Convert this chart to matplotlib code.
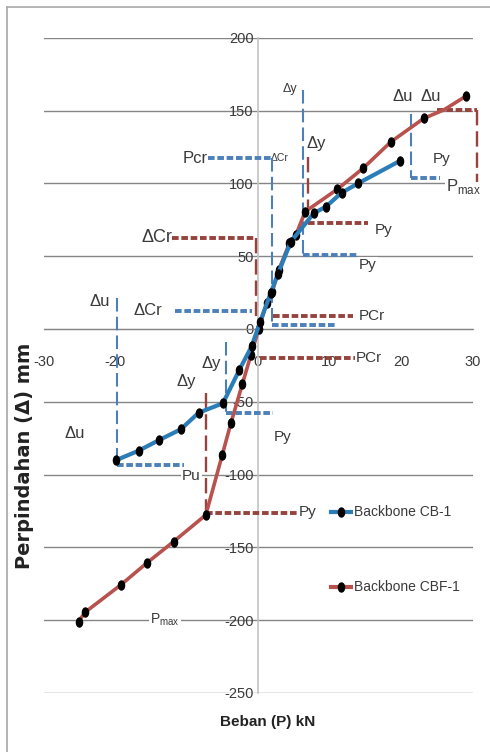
import matplotlib
matplotlib.use("Agg")
import matplotlib.pyplot as plt
from matplotlib.path import Path
from matplotlib.transforms import Affine2D
from matplotlib.lines import Line2D

plt.rcParams["axes.unicode_minus"] = False

# data: beban P (kN), perpindahan (mm)
cb1_name = "Backbone CB-1"
cb1_p = [-19.8, -16.7, -13.8, -10.8, -8.3, -4.9, -2.6, -0.9, 0.3, 1.8, 2.8, 4.6,
         7.8, 9.5, 11.7, 14.0, 19.9]
cb1_d = [-90.0, -83.6, -76.2, -68.9, -57.5, -51.0, -28.0, -12.0, 5.0, 25.0, 38.0, 60.0,
         79.5, 84.0, 93.6, 100.0, 115.6]

cbf1_name = "Backbone CBF-1"
cbf1_p = [-25.1, -24.2, -19.2, -15.5, -11.8, -7.3, -5.0, -3.8, -2.2, -1.0, 0.1, 1.2, 2.0,
          2.9, 4.4, 5.3, 6.6, 11.1, 14.7, 18.6, 23.2, 26.0, 29.1]
cbf1_d = [-201.0, -194.6, -175.8, -160.5, -146.0, -127.7, -86.5, -64.8, -38.0, -18.0, 0.0,
          17.7, 25.6, 40.5, 58.9, 64.6, 80.6, 96.0, 110.4, 128.6, 144.7, 150.5, 160.0]
cbf1_hidden = 21  # vertex under the dashed line, no marker

yticks = [-250, -200, -150, -100, -50, 0, 50, 100, 150, 200]
xticks = [-30, -20, 0, 10, 20, 30]

# dashed helper lines: (y, x0, x1) and (x, y0, y1)
blue_h = [(117.4, -7.0, 2.0), (2.7, 2.0, 11.0), (12.6, -11.6, -0.8), (-93.4, -19.76, -10.4),
          (-57.9, -4.5, 2.06), (50.8, 6.3, 14.0), (103.5, 21.4, 25.5)]
blue_v = [(2.0, 117.4, 2.7), (-19.76, 21.3, -90.0), (-4.5, -8.7, -57.9),
          (6.3, 164.0, 50.8), (21.4, 148.0, 103.5)]
red_h = [(62.5, -12.0, -0.3), (8.9, 2.1, 13.3), (-20.1, 0.3, 13.6), (-126.4, -7.3, 5.4),
         (73.0, 7.0, 15.4), (150.4, 25.0, 30.6)]
red_v = [(-0.3, 62.5, 8.9), (-7.3, -44.0, -126.4), (7.0, 118.0, 73.0), (30.6, 150.4, 101.2)]

# labels: text, x, y, size
labels = [
    ("Pcr", -8.8, 117.4, 12), ("ΔCr", 3.1, 117.4, 7.5), ("ΔCr", -14.1, 62.5, 13),
    ("ΔCr", -15.4, 12.6, 12), ("Δu", -22.1, 18.8, 12), ("Δu", -25.6, -71.7, 12),
    ("Pu", -9.3, -101.0, 11), ("Δy", -10.0, -36.2, 12), ("Δy", -6.6, -23.4, 12),
    ("Py", 3.4, -74.0, 11), ("Py", 7.0, -125.7, 11), ("PCr", 15.9, 8.9, 11),
    ("PCr", 15.5, -20.1, 11), ("Py", 15.4, 44.0, 11), ("Py", 17.6, 68.0, 11),
    ("Δy", 4.5, 165.0, 9), ("Δy", 8.2, 127.5, 12), ("Δu", 20.3, 159.5, 12),
    ("Δu", 24.1, 159.5, 12), ("Py", 25.7, 116.5, 11),
    ("P$_\\mathregular{max}$", 28.7, 97.7, 12), ("P$_\\mathregular{max}$", -13.0, -200.0, 10),
]

narrow = ["Liberation Sans", "DejaVu Sans"]
blue_line = "#2b7db8"
red_line = "#b8524e"
blue_dash = "#4d80b8"
red_dash = "#96433e"
txt = "#3a3a3a"

fig = plt.figure(figsize=(4.9, 7.52), dpi=100)
ax = fig.add_axes([43.5 / 490, 59 / 752, 429 / 490, 655.2 / 752])
ax.set_xlim(-30, 30)
ax.set_ylim(-250, 200)

# grid
for v in yticks:
    ax.axhline(v, color="#858585", lw=1.0, zorder=1)

ax.spines["top"].set_visible(False)
ax.spines["right"].set_visible(False)
ax.spines["left"].set_position(("data", 0))
ax.spines["left"].set_color("#c4c4c4")
ax.spines["left"].set_linewidth(1.2)
ax.spines["bottom"].set_position(("data", 0))
ax.spines["bottom"].set_color("#858585")
ax.set_yticks(yticks)
ax.set_xticks(xticks)
ax.tick_params(axis="both", length=0, labelsize=10.5, labelcolor=txt)
ax.tick_params(axis="y", pad=3)
ax.tick_params(axis="x", pad=19)
for t in ax.get_xticklabels() + ax.get_yticklabels():
    t.set_family(narrow)

# dashed guide lines
for y, x0, x1 in blue_h:
    ax.plot([x0, x1], [y, y], color=blue_dash, lw=2.8, ls=(0, (1.7, 0.7)),
            clip_on=False, zorder=3)
for x, y0, y1 in blue_v:
    ax.plot([x, x], [y0, y1], color=blue_dash, lw=1.5, ls=(0, (6.5, 2.5)),
            clip_on=False, zorder=3)
for y, x0, x1 in red_h:
    ax.plot([x0, x1], [y, y], color=red_dash, lw=2.8, ls=(0, (1.7, 0.7)),
            clip_on=False, zorder=3)
for x, y0, y1 in red_v:
    ax.plot([x, x], [y0, y1], color=red_dash, lw=1.7, ls=(0, (6.5, 2.5)),
            clip_on=False, zorder=3)

for s, x, y, size in labels:
    ax.text(x, y, s, fontsize=size, family=narrow, color=txt, ha="center", va="center",
            zorder=2.8, bbox=dict(facecolor="white", edgecolor="none", pad=0.6))

# series
oval = Path.unit_circle().transformed(Affine2D().scale(0.68, 1.0))
marked = [i for i in range(len(cbf1_p)) if i != cbf1_hidden]
ax.plot(cbf1_p, cbf1_d, color=red_line, lw=2.6, marker=oval, ms=6.5, mfc="black",
        mec="black", markevery=marked, clip_on=False, zorder=5)
ax.plot(cb1_p, cb1_d, color=blue_line, lw=3.0, marker=oval, ms=6.5, mfc="black",
        mec="black", zorder=6)

# legend drawn by hand
for (name, col, yy) in [(cb1_name, blue_line, 0.276), (cbf1_name, red_line, 0.162)]:
    ax.add_line(Line2D([0.670, 0.719], [yy, yy], transform=ax.transAxes, color=col, lw=3,
                       zorder=6))
    ax.add_line(Line2D([0.6945], [yy], transform=ax.transAxes, marker=oval, ms=6.5,
                       mfc="black", mec="black", zorder=7))
    ax.text(0.724, yy, name, transform=ax.transAxes, fontsize=10, family=narrow,
            color=txt, ha="left", va="center", zorder=6,
            bbox=dict(facecolor="white", edgecolor="none", pad=0.5))

fig.text(25 / 490, 1 - 456 / 752, "Perpindahan (Δ) mm", rotation=90, fontsize=14,
         fontweight="bold", family="DejaVu Sans", color="#222222", ha="center", va="center")
fig.text(268 / 490, 1 - 722 / 752, "Beban (P) kN", fontsize=11, fontweight="bold",
         family=narrow, color="#222222", ha="center", va="center")

# outer chart frame
fig.add_artist(Line2D([7 / 490, 7 / 490], [0, 1 - 7 / 752], transform=fig.transFigure,
                      color="#a8a8a8", lw=1.2))
fig.add_artist(Line2D([7 / 490, 1], [1 - 7 / 752, 1 - 7 / 752], transform=fig.transFigure,
                      color="#a8a8a8", lw=1.2))

fig.savefig("out.png", dpi=100)
